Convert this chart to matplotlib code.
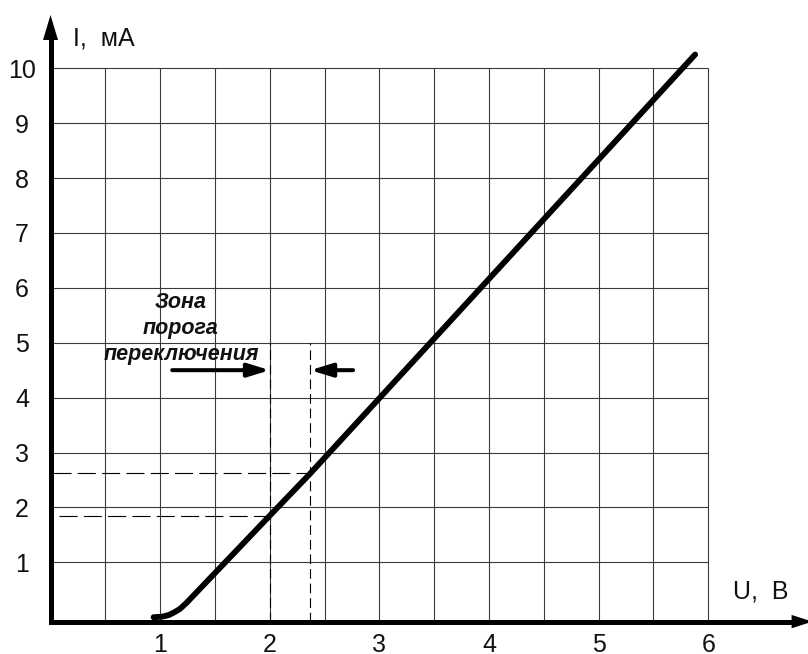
import matplotlib
matplotlib.use("Agg")
import matplotlib.pyplot as plt
import numpy as np

plt.rcParams['font.family'] = ['Liberation Sans', 'DejaVu Sans']
plt.rcParams['lines.scale_dashes'] = False

# Current-voltage characteristic (U in volts, I in mA)
curve_u = [0.94, 1.02, 1.08, 1.13, 1.18, 1.24, 2.00, 2.37, 5.88]
curve_i = [0.00, 0.01, 0.04, 0.09, 0.15, 0.26, 1.85, 2.62, 10.25]

# Switching threshold zone boundaries
thr_u = [2.00, 2.37]
thr_i = [1.85, 2.62]
zone_top = 5.0

# Grid and tick values
grid_u = np.arange(0.5, 6.01, 0.5)
grid_i = np.arange(1, 11)
xticks = [1, 2, 3, 4, 5, 6]
yticks = list(range(1, 11))

fig = plt.figure(figsize=(8.08, 6.54), dpi=100)
ax = fig.add_axes([50.5 / 808, 32.4 / 654, 757.5 / 808, 606.6 / 654])
ax.set_xlim(0, 757.5 / 109.63)
ax.set_ylim(-0.08, 10.97)
ax.patch.set_visible(False)

# grid
ax.vlines(grid_u, -0.08, grid_i[-1], color='#3a3a3a', lw=0.8, zorder=1)
ax.hlines(grid_i, 0, grid_u[-1], color='#3a3a3a', lw=0.8, zorder=1)

# axes lines with arrow heads
for side in ('top', 'right'):
    ax.spines[side].set_visible(False)
for side in ('left', 'bottom'):
    ax.spines[side].set_linewidth(3.6)
    ax.spines[side].set_capstyle('projecting')
ax.spines['left'].set_bounds(-0.08, 10.55)
ax.spines['bottom'].set_bounds(0, 6.75)

ax.annotate('', xy=(0, 10.97), xytext=(0, 10.5),
            arrowprops=dict(arrowstyle='-|>,head_length=1.0,head_width=0.3',
                            mutation_scale=18, lw=0, fc='black', ec='black',
                            shrinkA=0, shrinkB=0),
            annotation_clip=False)
ax.annotate('', xy=(6.95, -0.08), xytext=(6.7, -0.08),
            arrowprops=dict(arrowstyle='-|>,head_length=1.0,head_width=0.32',
                            mutation_scale=15, lw=0, fc='black', ec='black',
                            shrinkA=0, shrinkB=0),
            annotation_clip=False)

# ticks
ax.set_xticks(xticks)
ax.set_yticks(yticks)
ax.tick_params(axis='both', length=0, labelsize=18, colors='#111111')
ax.tick_params(axis='x', pad=8.0)
ax.tick_params(axis='y', pad=20.5)
for lbl in ax.get_yticklabels():
    lbl.set_horizontalalignment('center')

# axis titles
ax.text(0.205, 10.55, 'I,  мА', fontsize=18, ha='left', va='center', color='#111111')
ax.text(6.225, 0.46, 'U,  В', fontsize=18, ha='left', va='center', color='#111111')

# threshold dashed guides
ax.vlines(thr_u, -0.08, zone_top, color='black', lw=0.8,
          linestyles=[(0, (7.0, 3.5))], zorder=2)
ax.hlines(thr_i, [0.08, 0.02], thr_u, color='black', lw=0.8,
          linestyles=[(0, (13.0, 4.5))], zorder=2)

# characteristic curve
ax.plot(curve_u, curve_i, color='black', lw=4.2, solid_capstyle='round',
        solid_joinstyle='round', zorder=4)

# zone annotation
ax.text(1.19, 5.26, 'Зона\nпорога\nпереключения', fontsize=15.5, fontweight='bold',
        fontstyle='italic', ha='center', va='center', linespacing=1.3, zorder=5,
        color='#111111')
ax.annotate('', xy=(thr_u[0], 4.5), xytext=(1.11, 4.5),
            arrowprops=dict(arrowstyle='-|>,head_length=1.3,head_width=0.4',
                            mutation_scale=10, lw=2.9, color='black',
                            shrinkA=0, shrinkB=0))
ax.annotate('', xy=(thr_u[1], 4.5), xytext=(2.76, 4.5),
            arrowprops=dict(arrowstyle='-|>,head_length=1.3,head_width=0.4',
                            mutation_scale=10, lw=2.9, color='black',
                            shrinkA=0, shrinkB=0))

fig.savefig('out.png', dpi=100)
